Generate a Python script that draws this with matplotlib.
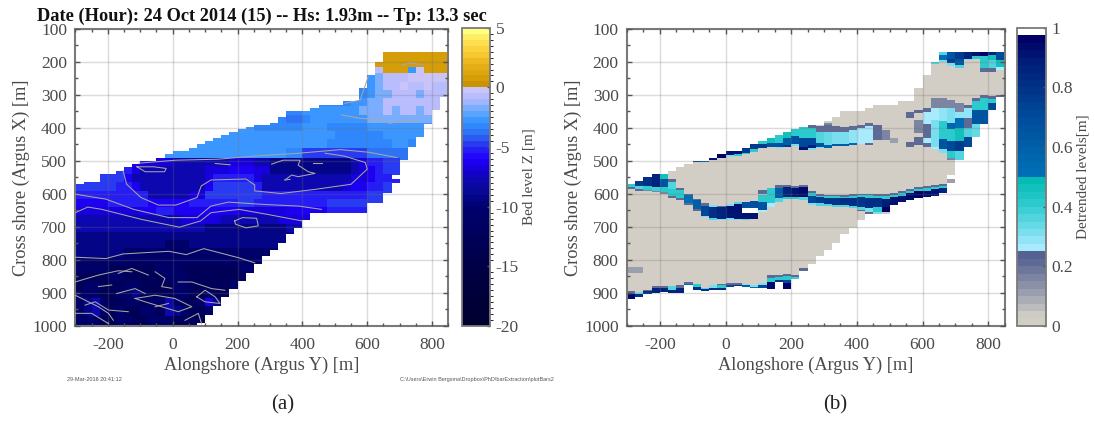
'''
Two panel bed level / detrended level map of the Argus site
'''

import matplotlib

matplotlib.use('Agg')
import matplotlib.pyplot as plt
from matplotlib.cm import ScalarMappable
from matplotlib.colors import BoundaryNorm, LinearSegmentedColormap, Normalize
from matplotlib.ticker import MultipleLocator
import numpy as np

plt.rcParams['font.family'] = ['Liberation Serif', 'DejaVu Serif']
plt.rcParams['axes.unicode_minus'] = False

# left edge of each 25 m alongshore column
alongshore = [-300 + 25 * i for i in range(46)]

# shore side / sea side limits of the surveyed area per column
area_top = [570, 560, 550, 540, 540, 532, 520, 510, 500, 500, 490, 480, 470, 470, 460, 450,
            440, 430, 422, 412, 404, 398, 390, 390, 380, 368, 350, 350, 348, 340, 331, 331,
            331, 320, 320, 280, 240, 200, 170, 170, 170, 170, 170, 170, 170, 170]
area_bottom = [1000, 1000, 1000, 1000, 1000, 1000, 1000, 1000, 1000, 1000, 1000, 1000, 1000,
               1000, 1000, 990, 966, 941, 911, 887, 863, 840, 814, 789, 769, 748, 723, 703,
               680, 659, 659, 659, 659, 659, 659, 659, 629, 629, 597, 543, 498, 457, 427, 387,
               347, 307]
# the lower limit in panel (b) stops at the outer bar
detr_bottom = [917, 912, 903, 899, 897, 899, 899, 877, 890, 895, 892, 890, 882, 880, 882, 885,
               885, 887, 868, 887, 858, 834, 814, 789, 769, 748, 723, 703, 680, 659, 660, 660,
               635, 625, 618, 614, 610, 605, 597, 543, 498, 457, 427, 387, 347, 307]

# bed level classes
z_letters = 'abcdefghijklmnop'
z_values = [0.6, -0.5, -1.0, -2, -2.7, -3.2, -3.9, -4.7, -5.5, -6.3, -7, -8, -9.5, -11, -13, -15]
row_edges = [170, 200, 215, 235, 260, 285, 310, 335, 360, 385, 410, 435, 460, 490, 515, 540, 565,
             590, 615, 640, 665, 690, 715, 740, 765, 790, 815, 840, 865, 890, 915, 940, 970, 1000]
row_start = [38, 37, 37, 36, 35, 35, 30, 26, 25, 20, 17, 14, 11, 7, 5, 3, 0, 0, 0, 0, 0, 0, 0, 0,
             0, 0, 0, 0, 0, 0, 0, 0, 0]
row_codes = [
    'aaaaaaaa',
    'aaaaaaaaa',
    'caaaebaaa',
    'edcccbbbbb',
    'fedccbccbcc',
    'feddcccdccc',
    'ffffeeddcccccccc',
    'ffeeeeeeedddcdccdccc',
    'fggfeeeeeeedddddddddd',
    'eeffffffeeefffffeeeeeeeeee',
    'eeeeeee' + 'eeeeeeee' + 'ffffff' + 'eeeeeeee',
    'eeeeeeeeeeeeeeeee' + 'ffffffff' + 'eef' + 'fff',
    'eeeeeeeeeeeeeee' + 'ff' + 'hhhhhhhh' + 'ggggg' + 'ggggg',
    'j' + 'kkkk' + 'lllllll' + 'kkk' + 'll' + 'mmmmmmmmmm' + 'lk' + 'ii' + 'hhg',
    'hik' + 'llllllll' + 'kkk' + 'jjj' + 'kk' + 'mmmmmmmmmm' + 'lkjihh',
    'hhhj' + 'lllllllll' + 'k' + 'iiiii' + 'k' + 'lllllllllll' + 'kkjiih',
    'hhhhhiij' + 'llllllll' + 'j' + 'hhhhh' + 'i' + 'llllllllll' + 'kjjiih',
    'iiiiiiiii' + 'lllll' + 'kk' + 'h' + 'hhhhh' + 'h' + 'iiiiiiiiiiiii' + 'hhh',
    'jjjjiiiii' + 'jjjjj' + 'iiiiii' + 'hh' + 'iiiiiiiii' + 'hhhhhhh',
    'kkkkkkkk' + 'jjii' + 'jjjj' + 'jjjj' + 'kkkkkk' + 'jjjjj' + 'iiiiii',
    'lllllllllllll' + 'kkkkk' + 'lllllll' + 'kkkk',
    'llllllllllllllll' + 'mmmmmmmmmm' + 'll',
    'mmmmmmmmmmmmmmmmmmmmmmmmmmm',
    'mmmmmmmmmmmnnnmmmmmmmmmmmm',
    'mmmmmmnnnnnnnnnnnnnnnnnnn',
    'nnnnnnnnnnnnnnnnnnnnnnnn',
    'nnnnoooooonnnooooooonnnn',
    'oooonnooooonnnoooooooo',
    'onnooonnoooonnooooonn',
    'nnnoonnmnooonnoonoo',
    'nmlnoonnonnlnoonkmo',
    'nmlnonoonnolmnoon',
    'nnnoonnoonnnoooo',
]

# small isolated strip off the bar end
nub_x = [675]
nub_top = [556]
nub_bottom = [568]

# grey depth contours of panel (a)
contour_x = [
    [-104, 10, 140, 259, 388, 518, 605, 691],
    [-153, -142, -98, -44, 10, 75, 88, 118, 226, 253, 253, 334, 442, 550, 600, 594, 527, 470],
    [-300, -206, -120, -12, 75, 118, 172, 280, 388, 459],
    [-300, -262, -218, -98, 21, 86, 118, 205, 291, 399],
    [191, 215, 259, 264, 226, 194, 191],
    [-300, -206, -153, -12, 42, 96, 205, 253],
    [-301, -229, -168, -126],
    [-168, -126, -75],
    [-54, -24, -34, -3],
    [17, 59, 120, 161],
    [-301, -229, -198, -183],
    [-270, -239, -198, -137],
    [-116, -54, 7, 59, 17, -34, -85, -116],
    [-54, -13],
    [74, 100, 131, 146, 100, 74],
    [-229, -188],
    [-173, -116, -85],
    [-301, -250, -198],
    [38, 79, 89],
    [-110, -85, -25, -20, -58, -95, -110],
    [131, 177],
    [305, 341, 393, 387, 418, 439, 387, 367, 346],
    [434, 459],
    [346, 362],
    [521, 578, 639, 670, 711, 763],
    [706, 732, 773],
    [531, 578, 603],
]
contour_y = [
    [507, 498, 495, 485, 477, 466, 474, 490],
    [530, 571, 611, 634, 634, 611, 576, 558, 555, 573, 591, 599, 586, 571, 525, 505, 485, 477],
    [601, 616, 647, 672, 672, 637, 625, 632, 637, 647],
    [657, 640, 647, 677, 701, 682, 657, 647, 662, 682],
    [682, 672, 674, 697, 703, 692, 682],
    [792, 796, 782, 774, 784, 766, 794, 809],
    [867, 846, 833, 836],
    [841, 826, 846],
    [836, 856, 881, 886],
    [867, 867, 887, 892],
    [907, 942, 962, 983],
    [937, 927, 952, 957],
    [917, 907, 917, 942, 957, 942, 927, 917],
    [942, 932],
    [912, 892, 912, 932, 927, 912],
    [881, 876],
    [902, 887, 902],
    [962, 962, 993],
    [983, 962, 993],
    [518, 533, 533, 523, 518, 518, 518],
    [508, 512],
    [510, 498, 498, 513, 533, 538, 548, 543, 558],
    [508, 508],
    [558, 556],
    [361, 371, 376, 387, 376, 382],
    [210, 203, 210],
    [326, 316, 245],
]

# detrended level patches per column, (from, to, level)
detr_patches = [
    [(570, 578, .42), (578, 584, .2), (823, 841, .12), (895, 902, .2), (902, 917, .93)],
    [(560, 575, .75), (575, 585, .35), (585, 590, .2), (823, 841, .12), (897, 902, .3), (902, 912, .8)],
    [(550, 577, .8), (577, 587, .42), (587, 592, .15), (890, 895, .2), (895, 903, .8)],
    [(540, 578, .85), (578, 590, .38), (590, 595, .15), (880, 885, .2), (885, 899, .85)],
    [(540, 555, .45), (555, 580, .65), (580, 595, .4), (595, 600, .15), (880, 885, .2), (885, 897, .85)],
    [(555, 563, .2), (563, 585, .35), (585, 605, .42), (605, 612, .2), (880, 890, .35), (890, 899, .85)],
    [(581, 589, .2), (589, 614, .42), (614, 620, .2), (876, 884, .2), (884, 899, .85)],
    [(599, 604, .2), (604, 627, .5), (627, 633, .2), (867, 873, .2), (873, 877, .5)],
    [(500, 503, .75), (615, 620, .2), (620, 645, .6), (645, 651, .2), (873, 882, .4), (882, 890, .8)],
    [(500, 504, .6), (629, 637, .2), (637, 667, .7), (667, 671, .3), (884, 889, .35), (889, 895, .8)],
    [(490, 497, .92), (634, 641, .3), (641, 672, .8), (672, 678, .35), (876, 884, .3), (884, 892, .8)],
    [(480, 490, .95), (637, 641, .2), (641, 675, .85), (675, 680, .3), (872, 877, .2), (877, 884, .4), (884, 890, .8)],
    [(470, 483, .92), (483, 487, .3), (631, 637, .3), (637, 672, .92), (672, 678, .3), (870, 875, .2), (875, 882, .7)],
    [(470, 480, .9), (480, 484, .4), (624, 631, .35), (631, 675, .92), (675, 680, .3), (870, 875, .2), (875, 880, .8)],
    [(460, 476, .75), (476, 480, .4), (624, 644, .65), (644, 659, .99), (659, 675, .92), (675, 680, .35), (872, 877, .3), (877, 882, .6)],
    [(450, 465, .75), (465, 472, .4), (621, 644, .68), (644, 659, .99), (659, 675, .9), (875, 882, .3), (882, 885, .5)],
    [(440, 448, .4), (448, 462, .75), (588, 599, .2), (604, 624, .42), (624, 649, .65), (649, 654, .25), (870, 876, .3), (876, 885, .7)],
    [(430, 445, .45), (445, 458, .65), (583, 629, .42), (629, 640, .25), (846, 856, .2), (856, 866, .4), (866, 887, .93)],
    [(422, 445, .42), (445, 458, .65), (458, 462, .3), (574, 581, .2), (581, 614, .62), (614, 624, .35), (845, 852, .2), (852, 860, .4), (860, 868, .8)],
    [(412, 432, .45), (432, 452, .6), (452, 458, .75), (573, 578, .2), (578, 609, .85), (609, 617, .4), (842, 850, .2), (850, 862, .4), (862, 870, .7), (870, 887, .95)],
    [(404, 425, .42), (425, 448, .65), (448, 455, .3), (576, 581, .2), (581, 609, .92), (609, 617, .4), (846, 852, .2), (852, 858, .38)],
    [(398, 432, .42), (432, 457, .7), (457, 467, .9), (574, 578, .2), (578, 609, .93), (609, 619, .35), (826, 834, .2)],
    [(390, 400, .2), (400, 430, .42), (430, 452, .7), (452, 462, .85), (462, 468, .3), (591, 597, .2), (597, 607, .4), (607, 629, .7), (629, 634, .3)],
    [(395, 412, .2), (412, 445, .35), (445, 457, .65), (457, 462, .3), (600, 605, .2), (605, 611, .4), (611, 629, .75), (629, 637, .35)],
    [(385, 392, .15), (392, 412, .22), (412, 452, .33), (452, 460, .6), (602, 607, .2), (607, 613, .4), (613, 632, .78), (632, 638, .35)],
    [(395, 412, .22), (412, 450, .32), (450, 456, .6), (603, 608, .2), (608, 614, .4), (614, 634, .78), (634, 640, .35)],
    [(398, 412, .2), (412, 448, .3), (448, 455, .6), (604, 609, .2), (609, 614, .4), (614, 635, .8), (635, 641, .35)],
    [(395, 408, .2), (408, 447, .28), (447, 452, .55), (601, 606, .2), (606, 612, .4), (612, 637, .8), (637, 644, .35)],
    [(392, 402, .2), (402, 445, .27), (445, 450, .25), (599, 604, .2), (604, 610, .4), (610, 640, .78), (640, 648, .35), (648, 652, .2)],
    [(386, 395, .2), (395, 447, .26), (447, 452, .2), (599, 604, .2), (604, 612, .4), (612, 642, .8), (642, 654, .3), (654, 660, .2)],
    [(392, 437, .2), (600, 606, .2), (606, 612, .4), (612, 640, .82), (640, 654, .4), (654, 660, .3)],
    [(407, 437, .15), (600, 606, .2), (606, 615, .4), (615, 640, .88), (640, 654, .97)],
    [(432, 447, .1), (596, 602, .2), (602, 610, .4), (610, 635, .9)],
    [(590, 596, .2), (596, 605, .4), (605, 625, .9)],
    [(351, 371, .2), (442, 457, .2), (585, 590, .2), (590, 598, .4), (598, 618, .93)],
    [(346, 356, .2), (377, 417, .15), (427, 452, .2), (580, 585, .2), (585, 592, .4), (592, 614, .95)],
    [(341, 351, .2), (351, 387, .27), (387, 432, .2), (432, 447, .27), (447, 457, .2), (575, 582, .2), (582, 590, .4), (590, 610, .93)],
    [(200, 207, .35), (311, 341, .15), (341, 376, .27), (376, 457, .32), (457, 465, .25), (572, 578, .2), (578, 585, .4), (585, 605, .9)],
    [(170, 180, .35), (180, 195, .5), (195, 202, .3), (311, 341, .15), (341, 380, .28), (380, 435, .42), (435, 465, .65), (465, 475, .3), (570, 575, .2), (575, 582, .4), (582, 597, .85)],
    [(170, 192, .65), (192, 205, .75), (205, 212, .3), (316, 341, .15), (341, 385, .3), (385, 405, .55), (405, 440, .42), (440, 470, .7), (470, 490, .4), (490, 498, .15)],
    [(170, 190, .75), (190, 210, .65), (210, 220, .35), (326, 351, .17), (351, 370, .28), (370, 400, .5), (400, 440, .45), (440, 470, .75), (470, 498, .35)],
    [(170, 190, .85), (190, 196, .3), (331, 341, .2), (341, 371, .28), (371, 402, .2), (402, 427, .35), (427, 457, .7)],
    [(170, 183, .9), (183, 190, .4), (311, 320, .2), (320, 345, .42), (345, 387, .65), (387, 427, .33)],
    [(170, 182, .95), (182, 220, .4), (220, 230, .2), (301, 310, .2), (310, 345, .42), (345, 387, .65)],
    [(170, 180, .85), (180, 195, .45), (195, 220, .35), (220, 232, .2), (303, 313, .2), (313, 325, .42), (325, 347, .7)],
    [(170, 195, .7), (195, 215, .45), (215, 225, .25), (300, 307, .2)],
]

# colour scales
z_stops = [-20, -15, -12, -10, -9, -8, -7, -6, -5, -4, -3, -2, -1, 0, 0, 1, 2, 3, 4, 5]
z_colors = ['#000030', '#000048', '#000060', '#000070', '#060890', '#0A08A8', '#1400D0', '#2000FF',
            '#2828F0', '#2C68F0', '#3090FF', '#60A8FF', '#B0B8FF', '#D0C8F8', '#C08800', '#D8A008',
            '#E8B018', '#F8C830', '#FFE050', '#FFFF80']
detr_stops = [0, .02, .1, .2, .25, .25, .3, .4, .5, .5, .6, .7, .8, .9, .975, .975, 1]
detr_colors = ['#D2CEC6', '#D2CEC6', '#9AA0AE', '#606C96', '#4C5A8E', '#B0ECFF', '#80E0F0', '#30CCD0',
               '#00B8B0', '#0070B8', '#0060A8', '#004C9C', '#003488', '#001C78', '#000066', '#FFFFFF',
               '#FFFFFF']

x_ticks = [-200, 0, 200, 400, 600, 800]
y_ticks = [100, 200, 300, 400, 500, 600, 700, 800, 900, 1000]
z_ticks = [-20, -15, -10, -5, 0, 5]
detr_ticks = [0, 0.2, 0.4, 0.6, 0.8, 1]

title = 'Date (Hour): 24 Oct 2014 (15) -- Hs: 1.93m -- Tp: 13.3 sec'
stamp = '29-Mar-2016 20:41:12'
file_path = 'C:\\Users\\Erwin Bergsma\\Dropbox\\PhD\\barExtraction\\plotBars2'

W, H = 1095.0, 423.0
GREY = '#7A7A7A'
TEXT = '#4A4A4A'


def px_axes(fig, x0, x1, y_top, y_bot):
    # axes placed with picture pixels
    return fig.add_axes([x0 / W, 1 - y_bot / H, (x1 - x0) / W, (y_bot - y_top) / H])


def style_map(ax):
    ax.set_xlim(-300, 850)
    ax.set_ylim(1000, 100)
    ax.set_xticks(x_ticks)
    ax.set_yticks(y_ticks)
    ax.xaxis.set_minor_locator(MultipleLocator(50))
    ax.yaxis.set_minor_locator(MultipleLocator(50))
    ax.tick_params(which='both', direction='in', top=True, right=True, color='#555555')
    ax.tick_params(which='major', length=3.5, width=1, labelsize=12.5, labelcolor=TEXT, pad=6)
    ax.tick_params(axis='x', which='major', pad=8)
    ax.tick_params(which='minor', length=2, width=1)
    ax.grid(True, which='major', color='#707070', alpha=0.25, lw=1, zorder=5)
    ax.set_axisbelow(False)
    for sp in ax.spines.values():
        sp.set_color(GREY)
        sp.set_linewidth(1.5)
    ax.set_xlabel('Alongshore (Argus Y) [m]', fontsize=13.2, color=TEXT, labelpad=3)
    ax.set_ylabel('Cross shore (Argus X) [m]', fontsize=13.2, color=TEXT, labelpad=1.5)


def style_cbar(cb, label):
    cb.outline.set_edgecolor(GREY)
    cb.outline.set_linewidth(1.3)
    cb.ax.tick_params(length=2, width=1, direction='in', color='#555555', labelsize=12.5,
                      labelcolor=TEXT, pad=4)
    cb.set_label(label, fontsize=11, color=TEXT, labelpad=3)


def plot_bed(fig):
    ax = px_axes(fig, 75.4, 448.3, 28.8, 325.9)
    stops = (np.array(z_stops) + 20) / 25.0
    cmap = LinearSegmentedColormap.from_list('bed', list(zip(stops, z_colors)), N=256)
    levels = np.arange(-20, 5.01, 0.5)
    norm = BoundaryNorm(levels, 256)
    lookup = dict(zip(z_letters, z_values))
    x = np.array(alongshore)
    top = np.array(area_top)
    bot = np.array(area_bottom)

    for r, codes in enumerate(row_codes):
        y0, y1 = row_edges[r], row_edges[r + 1]
        for i, code in enumerate(codes):
            c = row_start[r] + i
            if c > 45:
                continue
            a = max(y0, top[c])
            b = min(y1, bot[c])
            if b > a:
                ax.bar(x[c], b - a, bottom=a, width=25, align='edge', linewidth=0,
                       color=cmap(norm(lookup[code])), antialiased=False, zorder=2)
    ax.bar(nub_x, np.array(nub_bottom) - np.array(nub_top), bottom=nub_top, width=25,
           align='edge', linewidth=0, color=cmap(norm(-5.5)), antialiased=False, zorder=2)

    for cx, cy in zip(contour_x, contour_y):
        ax.plot(cx, cy, color='#A6A6A6', lw=0.75, zorder=3)
    style_map(ax)
    ax.set_title(title, fontsize=13.2, fontweight='bold', color='#111111', pad=6)

    cax = px_axes(fig, 462.3, 490, 27.8, 325.9)
    cb = fig.colorbar(ScalarMappable(norm=norm, cmap=cmap), cax=cax, ticks=z_ticks,
                      spacing='proportional', drawedges=False)
    style_cbar(cb, 'Bed level Z [m]')
    cb.ax.set_yticklabels([str(t) for t in z_ticks])


def plot_detrended(fig):
    ax = px_axes(fig, 627, 1004.7, 28.8, 325.9)
    cmap = LinearSegmentedColormap.from_list('detr', list(zip(detr_stops, detr_colors)), N=40)
    norm = Normalize(0, 1)
    x = np.array(alongshore)
    top = np.array(area_top)
    bot = np.array(detr_bottom)

    ax.bar(x, bot - top, bottom=top, width=25, align='edge', linewidth=0,
           color=cmap(norm(0)), antialiased=False, zorder=2)
    ax.bar(nub_x, np.array(nub_bottom) - np.array(nub_top), bottom=nub_top, width=25,
           align='edge', linewidth=0, color=cmap(norm(0.1)), antialiased=False, zorder=2)
    for c, patches in enumerate(detr_patches):
        for y0, y1, level in patches:
            ax.bar(x[c], y1 - y0, bottom=y0, width=25, align='edge', linewidth=0,
                   color=cmap(norm(level)), antialiased=False, zorder=2)
    style_map(ax)

    cax = px_axes(fig, 1017, 1045.6, 27.8, 325.9)
    cb = fig.colorbar(ScalarMappable(norm=norm, cmap=cmap), cax=cax, ticks=detr_ticks)
    style_cbar(cb, 'Detrended levels[m]')
    cb.ax.set_yticklabels(['0', '0.2', '0.4', '0.6', '0.8', '1'])


if __name__ == '__main__':
    fig = plt.figure(figsize=(W / 100, H / 100), dpi=100)
    plot_bed(fig)
    plot_detrended(fig)

    fig.text(67 / W, 1 - 379 / H, stamp, fontsize=4, color='#555555', family='Liberation Sans', va='center')
    fig.text(400 / W, 1 - 379 / H, file_path, fontsize=4, color='#555555', family='Liberation Sans', va='center')
    fig.text(283 / W, 1 - 405 / H, '(a)', fontsize=15, color='#222222', ha='center', va='center')
    fig.text(835 / W, 1 - 405 / H, '(b)', fontsize=15, color='#222222', ha='center', va='center')
    fig.savefig('out.png', dpi=100)
